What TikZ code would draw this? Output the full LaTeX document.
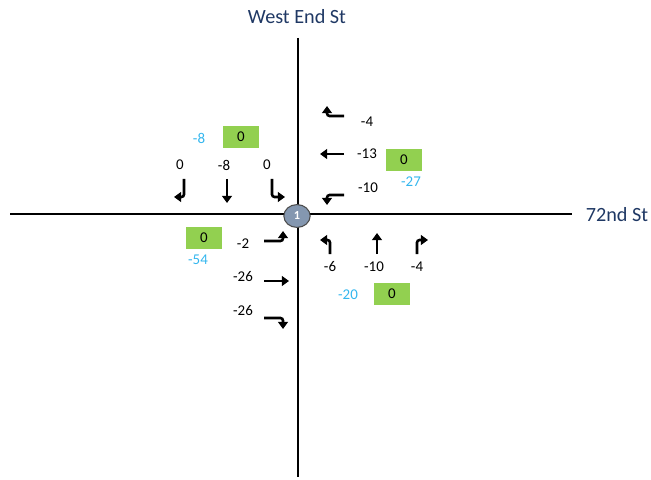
\documentclass[tikz,border=0pt]{standalone}
\usepackage{fontspec}
\setmainfont{Carlito}
\usetikzlibrary{arrows.meta,shapes.geometric}
\definecolor{rue}{HTML}{1F3864}
\definecolor{bleu}{HTML}{33B6EE}
\definecolor{vert}{HTML}{92D050}
\definecolor{carrefour}{HTML}{8497B0}
\tikzset{
  mouv/.style={line width=1.5pt, rounded corners=1.5pt, -{Triangle[length=4pt,width=5.5pt]}},
  nombre/.style={font=\fontsize{8.5}{10}\selectfont, inner sep=0pt},
  ecart/.style={nombre, text=bleu},
  boite/.style={nombre, fill=vert, minimum width=21pt, minimum height=12pt},
  nomrue/.style={font=\fontsize{11.5}{13}\selectfont, text=rue, inner sep=0pt}
}
\begin{document}
\begin{tikzpicture}[x=0.02cm, y=-0.02cm]
        \useasboundingbox (0,0) rectangle (651,479);

        % Rues
        \draw[line width=0.6pt] (10,214) -- (572,214);
        \draw[line width=0.6pt] (298,38) -- (298,477);
        \node[nomrue] (westend) at (297,17) {West End St};
        \node[nomrue] (rue72) at (617,215) {72nd St};

        % Carrefour 1
        \node[ellipse, draw=black!70, line width=0.6pt, fill=carrefour, minimum width=15pt, minimum height=13pt,
              inner sep=0pt, text=white, font=\fontsize{7}{7}\selectfont\bfseries] (c1) at (297,216) {1};

        % Approche sud (vers le bas)
        \node[ecart] (sudecart) at (199,138) {-8};
        \node[boite] (sudboite) at (241,137) {0};
        \node[nombre] (sudd) at (180,165) {0};
        \node[nombre] (suddr) at (224,165) {-8};
        \node[nombre] (sudg) at (267,165) {0};
        \draw[mouv] (184,179) -- (184,197) -- (174,197);
        \draw[mouv] (227,179) -- (227,203);
        \draw[mouv] (272,179) -- (272,197) -- (285,197);

        % Approche ouest (vers la gauche)
        \draw[mouv] (344,116) -- (327,116) -- (327,106);
        \node[nombre] (ouestd) at (367,122) {-4};
        \draw[mouv] (344,154) -- (320,154);
        \node[nombre] (ouestdr) at (367,154) {-13};
        \draw[mouv] (344,195) -- (327,195) -- (327,205);
        \node[nombre] (ouestg) at (368,188) {-10};
        \node[boite] (ouestboite) at (404,160) {0};
        \node[ecart] (ouestecart) at (411,182) {-27};

        % Approche est (vers la droite)
        \node[boite] (estboite) at (204,238) {0};
        \node[ecart] (estecart) at (198,260) {-54};
        \node[nombre] (estg) at (243,244) {-2};
        \draw[mouv] (264,241) -- (283,241) -- (283,231);
        \node[nombre] (estdr) at (243,277) {-26};
        \draw[mouv] (264,281) -- (289,281);
        \node[nombre] (estd) at (243,311) {-26};
        \draw[mouv] (264,318) -- (283,318) -- (283,329);

        % Approche nord (vers le haut)
        \draw[mouv] (330,254) -- (330,240) -- (320,240);
        \draw[mouv] (377,254) -- (377,233);
        \draw[mouv] (417,254) -- (417,240) -- (428,240);
        \node[nombre] (nordg) at (330,267) {-6};
        \node[nombre] (norddr) at (374,267) {-10};
        \node[nombre] (nordd) at (417,267) {-4};
        \node[ecart] (nordecart) at (348,295) {-20};
        \node[boite] (nordboite) at (392,294) {0};

    \end{tikzpicture}
\end{document}
